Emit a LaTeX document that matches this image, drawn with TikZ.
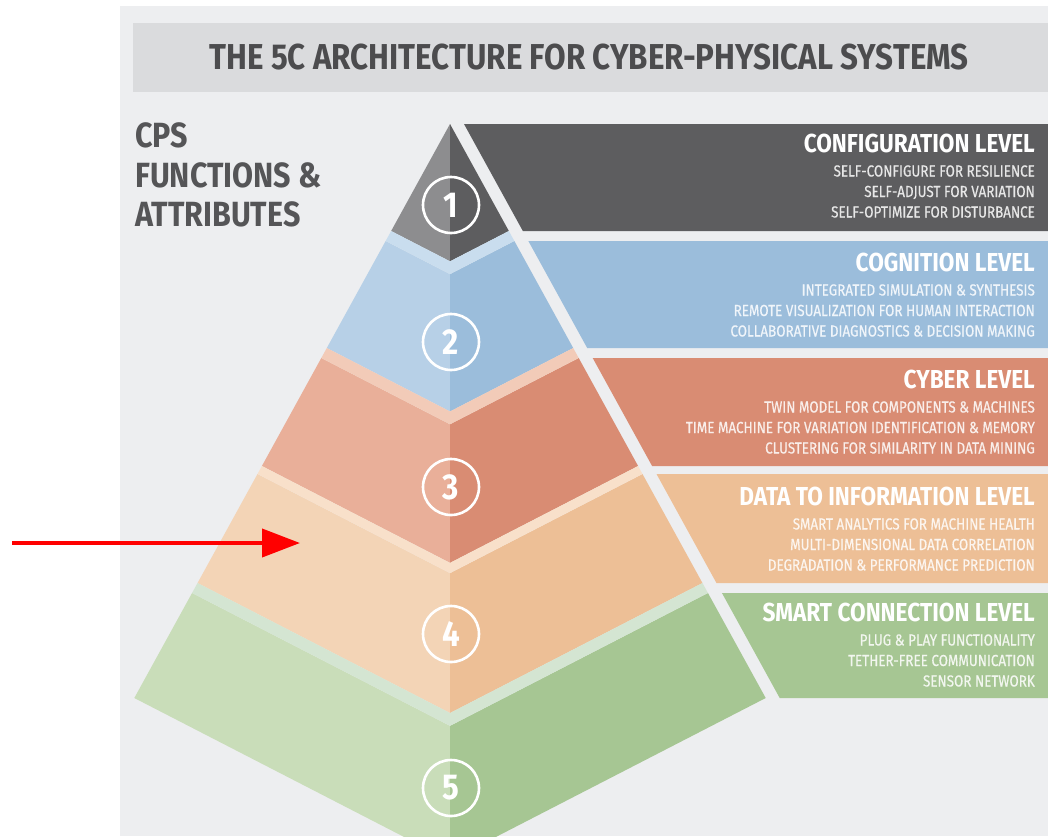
\documentclass[tikz,border=0pt]{standalone}
\usepackage{fontspec}
\usepackage{xcolor}
\usetikzlibrary{arrows.meta,positioning}
\newfontfamily\dinfont[FakeStretch=0.87]{Fira Sans}
\newfontfamily\dinmed[FakeStretch=0.84,FakeBold=0.5]{Fira Sans}

\definecolor{bgray}{HTML}{EDEEF0}
\definecolor{barg}{HTML}{DADBDD}
\definecolor{headg}{HTML}{4C4C4E}
\definecolor{gtL}{HTML}{8D8D8F}
\definecolor{gtR}{HTML}{5D5D5F}
\definecolor{blL}{HTML}{B7D0E7}
\definecolor{blR}{HTML}{9BBDDB}
\definecolor{blP}{HTML}{C9DDEE}
\definecolor{sbL}{HTML}{E9AF99}
\definecolor{sbR}{HTML}{D98C73}
\definecolor{sbP}{HTML}{F2CBB8}
\definecolor{pcL}{HTML}{F3D4B6}
\definecolor{pcR}{HTML}{EDBF96}
\definecolor{pcP}{HTML}{F8E0CA}
\definecolor{grL}{HTML}{C9DDB9}
\definecolor{grR}{HTML}{A6C693}
\definecolor{grP}{HTML}{D4E5D2}

\tikzset{
  lvltitle/.style={anchor=base east,inner sep=0pt,text=white,
    font=\dinfont\bfseries\fontsize{26pt}{30pt}\selectfont},
  lvltext/.style={anchor=base east,inner sep=0pt,text=white!85!#1,
    font=\dinmed\fontsize{16pt}{19pt}\selectfont},
  cpstext/.style={anchor=base west,inner sep=0pt,text=headg!95!white,
    font=\dinfont\bfseries\fontsize{35pt}{40pt}\selectfont},
  ring/.style={circle,draw=white,line width=2.6pt,minimum size=56pt,
    inner sep=0pt,text=white,font=\dinfont\bfseries\fontsize{36pt}{40pt}\selectfont},
  redarrow/.style={draw=red,line width=4pt,-{Triangle[length=38pt,width=28pt]}},
}

\begin{document}
\begin{tikzpicture}[x=1pt,y=-1pt]
	\useasboundingbox (0,0) rectangle (1048,836);
	\fill[white] (0,0) rectangle (1048,836);
	\fill[bgray] (120,6) rectangle (1048,836);
	\fill[barg] (133,23) rectangle (1048,92);
	\node[anchor=base,inner sep=0pt,text=headg,font=\dinfont\bfseries\fontsize{36pt}{40pt}\selectfont]
	  (title) at (589,69.5) {THE 5C ARCHITECTURE FOR CYBER-PHYSICAL SYSTEMS};
	\node[cpstext] (cps1) at (135,147) {CPS};
	\node[cpstext] (cps2) at (135,187) {FUNCTIONS \&};
	\node[cpstext] (cps3) at (135,226) {ATTRIBUTES};

	% pyramid tiers and level bands
	\begin{scope}
	\clip (120,6) rectangle (1048,836);
	\foreach \t/\b/\lc/\rc in {124/231/gtL/gtR,241/348/blL/blR,358/466/sbL/sbR,474/583/pcL/pcR,593/698/grL/grR}{
		\pgfmathsetmacro\dt{0.55*(\t-124)}
		\pgfmathsetmacro\db{0.55*(\b-124)}
		\pgfmathsetmacro\ct{\t+0.515*\dt}
		\pgfmathsetmacro\cb{\b+0.515*\db}
		\fill[\lc] (450-\dt,\t) -- (450,\ct) -- (450,\cb) -- (450-\db,\b) -- cycle;
		\fill[\rc] (450+\dt,\t) -- (450,\ct) -- (450,\cb) -- (450+\db,\b) -- cycle;
		\fill[\rc] (464+\dt,\t) -- (1048,\t) -- (1048,\b) -- (464+\db,\b) -- cycle;
	}
	% top faces between tiers
	\foreach \b/\t/\pc in {231/241/blP,348/358/sbP,466/474/pcP,583/593/grP}{
		\pgfmathsetmacro\db{0.55*(\b-124)}
		\pgfmathsetmacro\dt{0.55*(\t-124)}
		\pgfmathsetmacro\cb{\b+0.515*\db}
		\pgfmathsetmacro\ct{\t+0.515*\dt}
		\fill[\pc] (450-\db,\b) -- (450,\cb) -- (450+\db,\b) -- (450+\dt,\t) -- (450,\ct) -- (450-\dt,\t) -- cycle;
	}
	\end{scope}

	\node[ring] (n1) at (451,205) {1};
	\node[ring] (n2) at (451,342) {2};
	\node[ring] (n3) at (451,487) {3};
	\node[ring] (n4) at (451,634) {4};
	\node[ring] (n5) at (451,788) {5};

	% level texts
	\node[lvltitle] (cfg) at (1035,152) {CONFIGURATION LEVEL};
	\foreach \txt [count=\j] in {SELF-CONFIGURE FOR RESILIENCE,SELF-ADJUST FOR VARIATION,SELF-OPTIMIZE FOR DISTURBANCE}
		\node[lvltext=gtR] (cfg\j) at (1035,{156+20.5*\j}) {\txt};
	\node[lvltitle] (cog) at (1035,271) {COGNITION LEVEL};
	\foreach \txt [count=\j] in {INTEGRATED SIMULATION \& SYNTHESIS,REMOTE VISUALIZATION FOR HUMAN INTERACTION,COLLABORATIVE DIAGNOSTICS \& DECISION MAKING}
		\node[lvltext=blR] (cog\j) at (1035,{275+20.5*\j}) {\txt};
	\node[lvltitle] (cyb) at (1035,388) {CYBER LEVEL};
	\foreach \txt [count=\j] in {TWIN MODEL FOR COMPONENTS \& MACHINES,TIME MACHINE FOR VARIATION IDENTIFICATION \& MEMORY,CLUSTERING FOR SIMILARITY IN DATA MINING}
		\node[lvltext=sbR] (cyb\j) at (1035,{392+20.5*\j}) {\txt};
	\node[lvltitle] (dat) at (1035,505) {DATA TO INFORMATION LEVEL};
	\foreach \txt [count=\j] in {SMART ANALYTICS FOR MACHINE HEALTH,MULTI-DIMENSIONAL DATA CORRELATION,DEGRADATION \& PERFORMANCE PREDICTION}
		\node[lvltext=pcR] (dat\j) at (1035,{509+20.5*\j}) {\txt};
	\node[lvltitle] (smc) at (1035,621) {SMART CONNECTION LEVEL};
	\foreach \txt [count=\j] in {PLUG \& PLAY FUNCTIONALITY,TETHER-FREE COMMUNICATION,SENSOR NETWORK}
		\node[lvltext=grR] (smc\j) at (1035,{625+20.5*\j}) {\txt};

	% pointer
	\coordinate (arrowtail) at (12,543);
	\coordinate (arrowtip) at (300,543);
	\draw[redarrow] (arrowtail) -- (arrowtip);
\end{tikzpicture}
\end{document}
